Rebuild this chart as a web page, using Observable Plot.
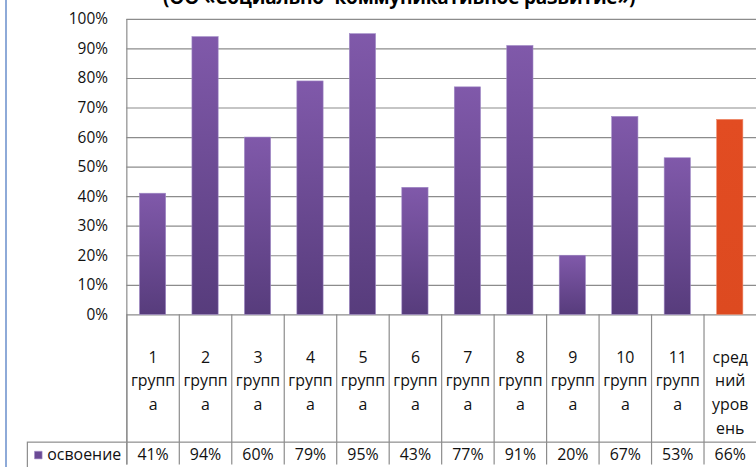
<!DOCTYPE html>
<html><head><meta charset="utf-8">
<script src="https://cdn.jsdelivr.net/npm/d3@7"></script>
<script src="https://cdn.jsdelivr.net/npm/@observablehq/plot@0.6"></script>
<style>
html,body{margin:0;padding:0;background:#fff;overflow:hidden;width:756px;height:467px}
#wrap{position:relative;width:756px;height:467px;overflow:hidden}
#title{position:absolute;left:163px;top:-16px;font:bold 19px "Open Sans";white-space:nowrap;color:#000;letter-spacing:-0.2px}
#border{position:absolute;left:5px;top:0;width:2px;height:467px;background:#8eaad8}
#chart{position:absolute;left:0;top:0}
</style></head><body>
<div id="wrap"><div id="title"></div><div id="border"></div><div id="chart"></div></div>
<script>
const titleText = "(ОО «Социально- коммуникативное развитие»)";
const categories = ["1\nгрупп\nа","2\nгрупп\nа","3\nгрупп\nа","4\nгрупп\nа","5\nгрупп\nа","6\nгрупп\nа","7\nгрупп\nа","8\nгрупп\nа","9\nгрупп\nа","10\nгрупп\nа","11\nгрупп\nа","сред\nний\nуров\nень"];
const values = [41,94,60,79,95,43,77,91,20,67,53,66];
const isAverage = [false,false,false,false,false,false,false,false,false,false,false,true];
const seriesName = "освоение";
const yTicks = [0,10,20,30,40,50,60,70,80,90,100];

document.getElementById("title").textContent = titleText;

const data = categories.map((c,i)=>({cat:c, value:values[i], avg:isAverage[i], label:values[i]+"%"}));

const W = 760, ML = 127, MR = 0, MT = 19, MB = 151, H = 467;
const step = (W - ML - MR) / categories.length;
const plotH = H - MT - MB;
const font = "Open Sans";
const textColor = "#111";
const lineColor = "#8c8c8c";
const fs = 16;

const chart = Plot.plot({
  width: W, height: H,
  marginLeft: ML, marginRight: MR, marginTop: MT, marginBottom: MB,
  style: {fontFamily: font, fontSize: fs + "px", color: textColor, background: "transparent", overflow: "visible"},
  x: {domain: categories, paddingInner: 0.5, paddingOuter: 0.25, round: false, axis: null},
  y: {domain: [0,100], axis: null},
  marks: [
    Plot.gridY(yTicks, {stroke: lineColor, strokeOpacity: 1, strokeWidth: 1.2}),
    Plot.axisY(yTicks, {label: null, tickFormat: d => d + "%", tickSize: 0, tickPadding: 19, fontSize: 15.5, fill: textColor}),
    Plot.barY(data, {filter: d => !d.avg, x: "cat", y: "value", fill: "url(#gradPurple)", stroke: "#a08ac6", strokeWidth: 0.6}),
    Plot.barY(data, {filter: d => d.avg, x: "cat", y: "value", fill: "url(#gradOrange)", stroke: "#ee8a6a", strokeWidth: 0.6}),
    Plot.ruleX(categories, {x: d => d, dx: -step/2, insetTop: plotH, insetBottom: -MB, stroke: lineColor, strokeWidth: 1.2}),
    Plot.ruleX([categories[0]], {x: d => d, dx: -step/2, insetBottom: -MB, stroke: lineColor, strokeWidth: 1.2}),
    Plot.frame({insetLeft: -100, insetTop: plotH + 128, insetBottom: -MB - 10, insetRight: -10, stroke: lineColor, strokeWidth: 1.2}),
    Plot.text(data, {x: "cat", text: "cat", frameAnchor: "bottom", lineAnchor: "top", dy: 31, lineHeight: 1.5, fontSize: fs, fill: textColor}),
    Plot.text(data, {x: "cat", text: "label", frameAnchor: "bottom", lineAnchor: "middle", dy: 141, fontSize: fs, fill: textColor}),
    Plot.dot([seriesName], {frameAnchor: "bottom-left", dx: -89, dy: 141, symbol: "square", r: 4.3, fill: "#6a4a95", stroke: "#a08ac6", strokeWidth: 0.6}),
    Plot.text([seriesName], {text: d => d, frameAnchor: "bottom-left", textAnchor: "start", lineAnchor: "middle", dx: -80, dy: 141, fontSize: fs, fill: textColor})
  ]
});

d3.select(chart).insert("defs", ":first-child").html(`
  <linearGradient id="gradPurple" x1="0" y1="0" x2="0" y2="1">
    <stop offset="0" stop-color="#8059aa"/>
    <stop offset="1" stop-color="#573c7c"/>
  </linearGradient>
  <linearGradient id="gradOrange" x1="0" y1="0" x2="0" y2="1">
    <stop offset="0" stop-color="#e24c22"/>
    <stop offset="1" stop-color="#dd4a20"/>
  </linearGradient>`);

document.getElementById("chart").appendChild(chart);
</script>
</body></html>
